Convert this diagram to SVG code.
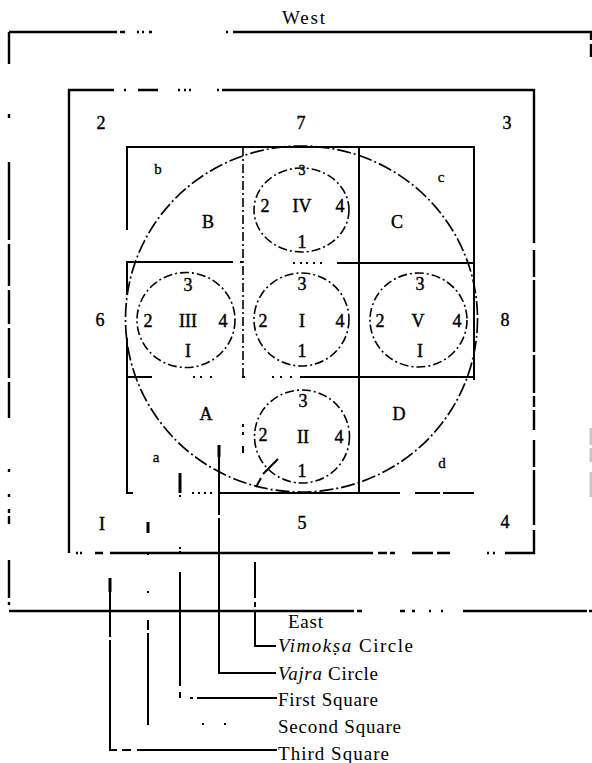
<svg xmlns="http://www.w3.org/2000/svg" width="592" height="763" viewBox="0 0 592 763">
<style>
.bg{fill:#fff}
.ln{fill:none;stroke:#000;stroke-width:2.4;stroke-linecap:butt}
.md{fill:none;stroke:#000;stroke-width:2;stroke-linecap:butt}
.dd{fill:none;stroke:#000;stroke-width:1.6;stroke-dasharray:9 3 2 3}
.big{fill:none;stroke:#000;stroke-width:1.7;stroke-dasharray:14 3 2 3}
.faint{fill:none;stroke:#c8c8c8;stroke-width:3}
text{font-family:"Liberation Serif","Times New Roman",serif;fill:#000}
.n{font-size:18px;text-anchor:middle;stroke:#000;stroke-width:0.4}
.s{font-size:15px;text-anchor:middle;stroke:#000;stroke-width:0.3}
.lab{font-size:19px}
</style>
<rect class="bg" x="0" y="0" width="592" height="763"/>

<g id="third-square">
<path class="ln" d="M9,32 H117 M120,32 H125 M137,32 h2 M142,32 h2 M149,32 h3 M226,32 h2 M233,32 H591 V40 M591,44 V57"/>
<path class="ln" d="M9,32 V64 M9,114 v4 M9,162 V240 M9,244 V286 M9,290 V324 M9,328 V378 M9,382 V418 M9,469 v3 M9,494 v3 M9,509 v4 M9,516 v8 M9,560 V598 M9,602 v3"/>
<path class="ln" d="M9,611 H354 M357,611 h5 M400,611 h5 M412,611 h3 M429,611 h2 M441,611 h2 M463,611 H587 M589,611 h3"/>
<path class="faint" d="M591,428 V445 M591,448 V462 M591,472 V497"/>
</g>

<g id="second-square">
<path class="ln" d="M69,553 V90 H114 M124,90 h2 M138,90 H158 M178,90 h2 M184,90 h2 M189,90 h2 M217,90 h2 M222,90 H534 V243 M534,250 V277 M534,280 V352 M534,355 V393 M534,396 V407 M534,410 V430 M534,440 V467 M534,470 V525 M534,530 V553 H505 M495,553 h-2 M489,553 h-2 M450,553 H437 M433,553 H412 M395,553 H390 M387,553 H378 M373,553 H110 M103,553 H95 M82,553 h-2 M78,553 h-2"/>
</g>

<g id="first-square">
<path class="md" d="M474,380 V147 H127 V230 M127,261 V295 M127,338 V493 H133 M192,493 h2 M198,493 h2 M204,493 h2 M210,493 h2 M220,493 H400 M415,493 H440 M443,493 H474"/>
<path class="md" d="M359,147 V493"/>
<path class="md" d="M127,262 H233 M240,262 h3 M293,263 h2 M300,263 h2 M306,263 h2 M313,263 h2 M320,263 h2 M337,263 H474"/>
<path class="md" d="M127,377 H152 M193,377 h2 M200,377 h2 M210,377 h2 M242,377 h3 M272,377 h2 M280,377 h2 M290,377 h2 M300,377 H474"/>
<path class="dd" d="M243,147 V377"/>
<path class="md" d="M243,424 v3 M243,432 v3 M243,446 v7"/>
</g>

<g id="vajra-circle">
<ellipse class="big" cx="301.5" cy="319" rx="176" ry="173"/>
</g>

<g id="circle-IV">
<ellipse class="dd" cx="301.5" cy="210" rx="47.5" ry="42"/>
<text class="n" x="302" y="175" style="font-size:14px">3</text>
<text class="n" x="265" y="212">2</text>
<text class="n" x="302" y="212">IV</text>
<text class="n" x="340" y="212">4</text>
<text class="n" x="302" y="248">1</text>
</g>

<g id="circle-III">
<ellipse class="dd" cx="186" cy="320" rx="49" ry="47.5"/>
<text class="n" x="188" y="291">3</text>
<text class="n" x="148" y="327">2</text>
<text class="n" x="188" y="327">III</text>
<text class="n" x="223" y="327">4</text>
<text class="n" x="188" y="357">I</text>
</g>

<g id="circle-I">
<ellipse class="dd" cx="301.5" cy="319.5" rx="47.5" ry="46.5"/>
<text class="n" x="302" y="290">3</text>
<text class="n" x="263" y="327">2</text>
<text class="n" x="302" y="327">I</text>
<text class="n" x="340" y="327">4</text>
<text class="n" x="302" y="357">1</text>
</g>

<g id="circle-V">
<ellipse class="dd" cx="418.5" cy="320" rx="48.5" ry="47"/>
<text class="n" x="420" y="290">3</text>
<text class="n" x="380" y="327">2</text>
<text class="n" x="418" y="327">V</text>
<text class="n" x="457" y="327">4</text>
<text class="n" x="420" y="357">I</text>
</g>

<g id="circle-II">
<ellipse class="dd" cx="302" cy="436.5" rx="47.5" ry="46.5"/>
<text class="n" x="303" y="407">3</text>
<text class="n" x="263" y="441">2</text>
<text class="n" x="303" y="443">II</text>
<text class="n" x="339" y="443">4</text>
<text class="n" x="302" y="477">1</text>
</g>

<g id="cell-labels">
<text class="n" x="208" y="228">B</text>
<text class="n" x="397" y="228">C</text>
<text class="n" x="206" y="420">A</text>
<text class="n" x="399" y="420">D</text>
<text class="s" x="158" y="174">b</text>
<text class="s" x="441" y="182">c</text>
<text class="s" x="156" y="462">a</text>
<text class="s" x="442" y="468">d</text>
</g>

<g id="gate-numbers">
<text class="n" x="101" y="129">2</text>
<text class="n" x="301" y="129">7</text>
<text class="n" x="507" y="129">3</text>
<text class="n" x="100" y="326">6</text>
<text class="n" x="505" y="326">8</text>
<text class="n" x="102" y="530">I</text>
<text class="n" x="302" y="529">5</text>
<text class="n" x="505" y="528">4</text>
</g>

<g id="directions">
<text class="lab" x="282" y="24" textLength="43" lengthAdjust="spacing">West</text>
<text class="lab" x="288" y="628" textLength="35" lengthAdjust="spacing">East</text>
</g>

<g id="connectors">
<path class="md" d="M278,459 L263,474 M261,478 L256,487 M255,562 V598 M255,602 V607 M255,610 V646 H276"/>
<path class="md" d="M219,445 V515 M219,518 V673 H276"/>
<path class="ln" style="stroke-width:3" d="M219,445 v12 M180,473 v20 M148,522 v11 M110,578 v14"/>
<path class="md" d="M180,495 v2 M180,547 v2 M180,551 v2 M180,572 V686 M180,692 V698 M190,698 h3 M197,698 H277"/>
<path class="md" d="M148,553 v2 M148,591 v2 M148,620 V630 M148,633 V725 M202,724 h2 M224,724 h2"/>
<path class="md" d="M110,592 V610 M110,612 V637 M110,640 V750 H117 M122,750 H131 M137,750 H277"/>
</g>

<g id="legend">
<text class="lab" x="278" y="652" textLength="135" lengthAdjust="spacing"><tspan font-style="italic">Vimokṣa</tspan> Circle</text>
<text class="lab" x="278" y="680" textLength="100" lengthAdjust="spacing"><tspan font-style="italic">Vajra</tspan> Circle</text>
<text class="lab" x="278" y="706" textLength="100" lengthAdjust="spacing">First Square</text>
<text class="lab" x="278" y="733" textLength="123" lengthAdjust="spacing">Second Square</text>
<text class="lab" x="278" y="760" textLength="111" lengthAdjust="spacing">Third Square</text>
</g>
</svg>
